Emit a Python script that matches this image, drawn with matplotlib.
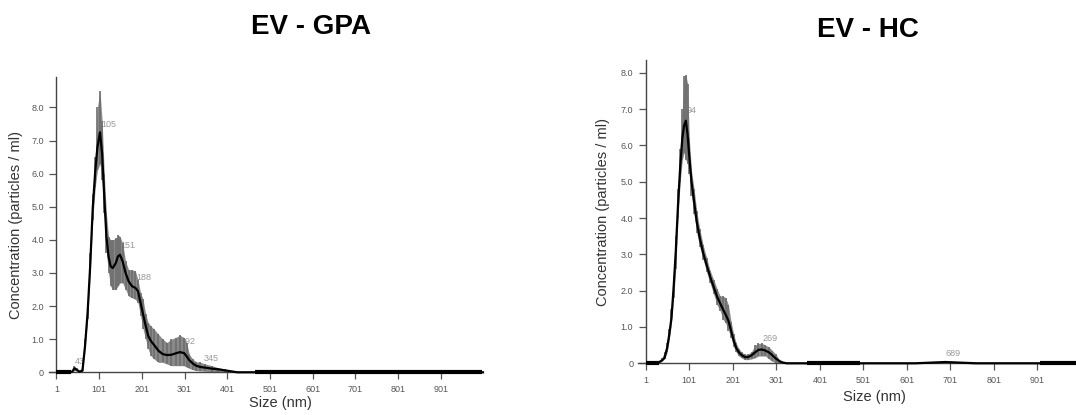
import matplotlib
matplotlib.use("Agg")
import matplotlib.pyplot as plt
import numpy as np

plt.rcParams['font.family'] = ['Liberation Sans', 'DejaVu Sans']

# EV - GPA : size (nm), mean concentration, error band
size_gpa = [30, 38, 43, 48, 55, 62, 68, 74, 80, 86, 92, 97, 103, 108, 113, 118, 123, 128, 133,
            140, 145, 150, 156, 163, 170, 178, 186, 192, 198, 204, 210, 216, 222, 230, 240, 250,
            260, 270, 280, 290, 300, 306, 312, 320, 328, 338, 350, 365, 380, 395, 410, 425, 1000]
mean_gpa = [0, 0.02, 0.12, 0.08, 0.02, 0.05, 0.8, 1.8, 3.2, 4.95, 6.1, 6.8, 7.25, 6.6, 5.3, 4.1,
            3.5, 3.2, 3.15, 3.3, 3.5, 3.55, 3.35, 3.0, 2.75, 2.6, 2.55, 2.45, 2.1, 1.75, 1.4, 1.1,
            0.95, 0.82, 0.65, 0.55, 0.52, 0.53, 0.57, 0.61, 0.58, 0.48, 0.37, 0.27, 0.2, 0.16,
            0.14, 0.11, 0.09, 0.06, 0.03, 0, 0]
upper_gpa = [0, 0.03, 0.2, 0.12, 0.04, 0.1, 1.0, 2.0, 3.6, 5.4, 6.5, 8.0, 8.5, 7.6, 6.0, 4.8,
             4.1, 4.0, 4.0, 4.05, 4.15, 4.1, 3.9, 3.35, 3.1, 3.1, 3.05, 2.8, 2.4, 2.2, 1.75, 1.5,
             1.4, 1.3, 1.15, 1.0, 0.9, 1.0, 1.05, 1.12, 1.05, 0.9, 0.55, 0.4, 0.32, 0.3, 0.25,
             0.2, 0.14, 0.1, 0.05, 0, 0]
lower_gpa = [0, 0.01, 0.05, 0.04, 0, 0.02, 0.7, 1.6, 3.0, 4.6, 5.6, 6.1, 6.3, 5.8, 4.8, 3.6,
             3.0, 2.6, 2.5, 2.5, 2.6, 2.7, 2.7, 2.5, 2.3, 2.25, 2.2, 2.1, 1.7, 1.3, 1.0, 0.7,
             0.5, 0.4, 0.3, 0.3, 0.25, 0.2, 0.2, 0.2, 0.2, 0.15, 0.12, 0.08, 0.05, 0.04, 0.03,
             0.02, 0.02, 0.01, 0, 0, 0]
peaks_gpa = [43, 105, 151, 188, 292, 345]
peak_y_gpa = [0.2, 7.35, 3.7, 2.74, 0.78, 0.27]
flat_gpa = [(1, 35), (466, 998)]

# EV - HC
size_hc = [20, 30, 38, 44, 50, 55, 60, 65, 70, 75, 80, 85, 89, 93, 97, 101, 106, 112, 118, 125,
           133, 141, 149, 157, 165, 172, 179, 185, 191, 197, 203, 209, 215, 222, 229, 236, 244,
           252, 260, 268, 276, 284, 292, 300, 308, 316, 325, 620, 660, 689, 720, 760, 1000]
mean_hc = [0, 0.02, 0.08, 0.15, 0.42, 0.8, 1.25, 2.1, 3.1, 4.35, 5.4, 6.2, 6.55, 6.68, 6.3, 5.7,
           5.0, 4.45, 3.9, 3.45, 3.03, 2.7, 2.38, 2.1, 1.83, 1.65, 1.47, 1.33, 1.17, 0.9, 0.62,
           0.42, 0.3, 0.22, 0.17, 0.17, 0.22, 0.3, 0.37, 0.38, 0.35, 0.3, 0.22, 0.13, 0.06, 0.02,
           0, 0, 0.02, 0.035, 0.02, 0, 0]
upper_hc = [0, 0.04, 0.15, 0.3, 0.55, 0.95, 1.5, 2.4, 3.5, 4.8, 5.9, 7.0, 7.9, 7.95, 7.7, 6.2,
            5.3, 4.8, 4.2, 3.7, 3.25, 2.9, 2.55, 2.3, 2.05, 1.85, 1.85, 1.8, 1.6, 1.15, 0.8, 0.55,
            0.4, 0.3, 0.25, 0.25, 0.32, 0.5, 0.55, 0.55, 0.5, 0.45, 0.35, 0.25, 0.1, 0.04, 0,
            0, 0.02, 0.035, 0.02, 0, 0]
lower_hc = [0, 0, 0.05, 0.12, 0.3, 0.65, 1.1, 1.8, 2.6, 4.0, 5.0, 5.6, 5.8, 5.6, 5.5, 5.2, 4.6,
            4.1, 3.6, 3.2, 2.85, 2.5, 2.2, 1.9, 1.6, 1.45, 1.2, 1.1, 0.9, 0.7, 0.45, 0.3, 0.2,
            0.14, 0.1, 0.1, 0.12, 0.15, 0.2, 0.2, 0.2, 0.12, 0.05, 0.02, 0, 0, 0,
            0, 0.02, 0.035, 0.02, 0, 0]
peaks_hc = [94, 269, 689]
peak_y_hc = [6.84, 0.55, 0.14]
flat_hc = [(1, 32), (371, 493), (907, 992)]

x_ticks = [1, 101, 201, 301, 401, 501, 601, 701, 801, 901]
y_ticks = [0, 1, 2, 3, 4, 5, 6, 7, 8]
y_ticklabels = ["0", "1.0", "2.0", "3.0", "4.0", "5.0", "6.0", "7.0", "8.0"]


def drawPanel(ax, size, mean, upper, lower, peaks, peakY, flat, xlim, ylim):
    for p, py in zip(peaks, peakY):
        ax.text(p, py, str(p), fontsize=6.5, color="#9a9a9a", ha="left", va="bottom", zorder=1)
    # error band: solid grey fill plus vertical bars for the striped look
    ax.fill_between(size, lower, upper, color="#8a8a8a", linewidth=0, zorder=2)
    ax.vlines(size, lower, upper, color="#6e6e6e", linewidth=1.2, zorder=2)
    for a, b in flat:
        ax.plot([a, b], [0, 0], color="black", linewidth=3, solid_capstyle="butt",
                zorder=3, clip_on=False)
    ax.plot(size, mean, color="black", linewidth=1.6, zorder=4, clip_on=False)

    ax.set_xlim(xlim)
    ax.set_ylim(ylim)
    ax.spines['top'].set_visible(False)
    ax.spines['right'].set_visible(False)
    ax.spines['left'].set_position(('data', 1))
    for s in ['left', 'bottom']:
        ax.spines[s].set_color("#444444")
        ax.spines[s].set_linewidth(1.0)
    ax.set_xticks(x_ticks)
    ax.set_xticklabels([str(t) for t in x_ticks])
    ax.set_yticks(y_ticks)
    ax.set_yticklabels(y_ticklabels)
    ax.tick_params(axis='both', direction='out', length=5, width=0.9, colors="#555555",
                   labelsize=6.5, labelcolor="#555555", pad=4)
    ax.set_xlabel("Size (nm)", fontsize=10.5, color="#333333", va="center")
    ax.set_ylabel("Concentration (particles / ml)", fontsize=10.5, color="#333333", va="center")


fig = plt.figure(figsize=(10.76, 4.15), dpi=100)
ax1 = fig.add_axes([0.0457, 0.1029, 0.4024, 0.7116])
ax2 = fig.add_axes([0.5925, 0.1246, 0.4084, 0.7308])

drawPanel(ax1, size_gpa, mean_gpa, upper_gpa, lower_gpa, peaks_gpa, peak_y_gpa, flat_gpa,
          (-16, 998), (0, 8.92))
drawPanel(ax2, size_hc, mean_hc, upper_hc, lower_hc, peaks_hc, peak_y_hc, flat_hc,
          (-18, 992), (0, 8.35))

ax1.yaxis.set_label_coords(-0.077, 0.5)
ax2.yaxis.set_label_coords(-0.078, 0.5)
ax1.xaxis.set_label_coords(0.535, -0.105)
ax2.xaxis.set_label_coords(0.54, -0.11)

fig.text(311 / 1076, 1 - 27 / 415, "EV - GPA", fontsize=20, fontweight="bold",
         ha="center", va="center")
fig.text(868 / 1076, 1 - 30 / 415, "EV - HC", fontsize=20, fontweight="bold",
         ha="center", va="center")

fig.savefig("out.png", dpi=100)
